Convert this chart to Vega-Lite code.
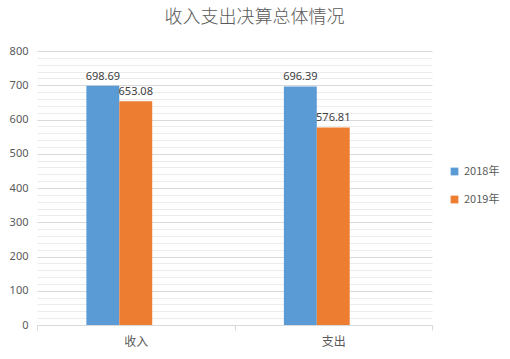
{
  "$schema": "https://vega.github.io/schema/vega-lite/v6.json",
  "autosize": {"type": "none"},
  "width": 395,
  "height": 274,
  "padding": {"left": 37, "top": 51, "right": 78, "bottom": 34},
  "background": "#ffffff",
  "title": {
    "text": "收入支出决算总体情况",
    "fontSize": 18,
    "font": "Noto Sans CJK SC",
    "fontWeight": 300,
    "color": "#595959",
    "anchor": "middle",
    "dx": 20,
    "offset": 18
  },
  "data": {
    "values": [
      {"cat": "收入", "year": "2018年", "value": 698.69},
      {"cat": "收入", "year": "2019年", "value": 653.08},
      {"cat": "支出", "year": "2018年", "value": 696.39},
      {"cat": "支出", "year": "2019年", "value": 576.81}
    ]
  },
  "encoding": {
    "x": {
      "field": "cat",
      "type": "nominal",
      "sort": ["收入", "支出"],
      "scale": {"paddingInner": 0, "paddingOuter": 0},
      "axis": {
        "title": null,
        "labelAngle": 0,
        "labelFont": "Noto Sans CJK SC",
        "labelFontSize": 12,
        "labelColor": "#595959",
        "labelPadding": 6,
        "domainColor": "#d9d9d9",
        "tickColor": "#d9d9d9",
        "tickBand": "extent",
        "tickSize": 5,
        "grid": false
      }
    },
    "xOffset": {
      "field": "year",
      "type": "nominal",
      "scale": {"domain": ["_a", "2018年", "2019年", "_b", "_c"], "paddingInner": 0, "paddingOuter": 0.5}
    },
    "y": {
      "field": "value",
      "type": "quantitative",
      "scale": {"domain": [0, 800], "nice": false},
      "axis": {
        "title": null,
        "values": [0,20,40,60,80,100,120,140,160,180,200,220,240,260,280,300,320,340,360,380,400,420,440,460,480,500,520,540,560,580,600,620,640,660,680,700,720,740,760,780,800],
        "labelExpr": "datum.value % 100 === 0 ? datum.label : ''",
        "labelFont": "Noto Sans",
        "labelFontSize": 11,
        "labelColor": "#595959",
        "labelPadding": 9,
        "domain": false,
        "ticks": false,
        "grid": true,
        "gridColor": {"condition": {"test": "datum.value % 100 === 0", "value": "#d9d9d9"}, "value": "#ececec"},
        "gridWidth": 1
      }
    }
  },
  "layer": [
    {
      "mark": {"type": "bar"},
      "encoding": {
        "color": {
          "field": "year",
          "type": "nominal",
          "scale": {"domain": ["2018年", "2019年"], "range": ["#5B9BD5", "#ED7D31"]},
          "legend": {
            "title": null,
            "orient": "none",
            "legendX": 412,
            "legendY": 115,
            "symbolType": "square",
            "symbolSize": 60,
            "labelFont": "Noto Sans CJK SC",
            "labelFontSize": 11,
            "labelColor": "#595959",
            "rowPadding": 16
          }
        }
      }
    },
    {
      "mark": {"type": "text", "dy": -9, "font": "Noto Sans", "fontSize": 11},
      "encoding": {
        "text": {"field": "value", "type": "quantitative", "format": ".2f"},
        "color": {"value": "#404040"}
      }
    }
  ],
  "config": {"view": {"stroke": null}}
}
